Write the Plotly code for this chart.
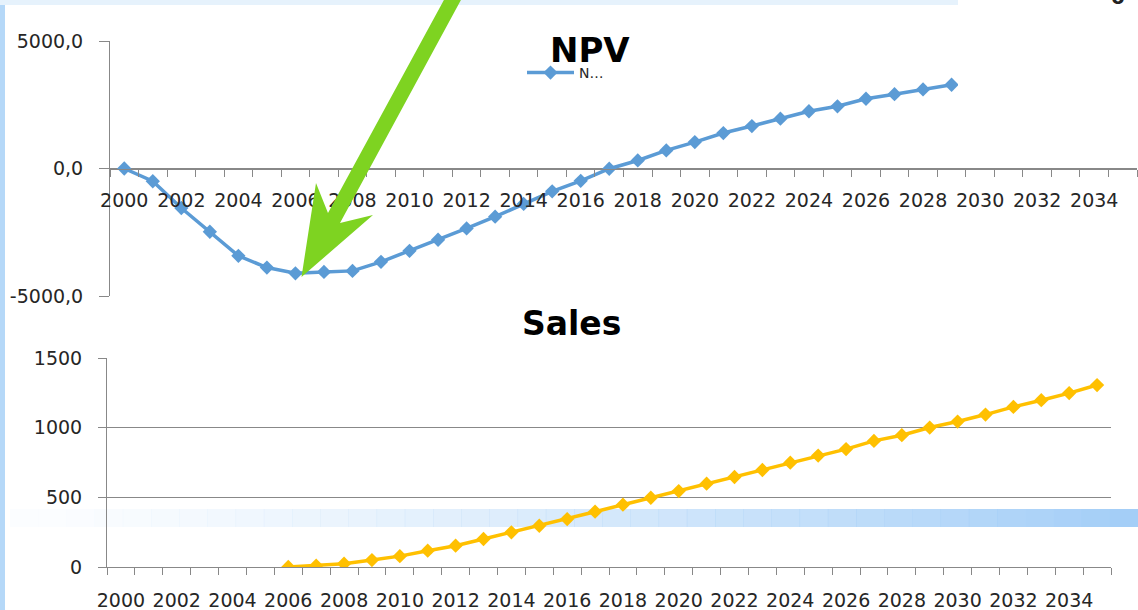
import plotly.graph_objects as go

W, H = 1138, 610

# ---- data ----
years = list(range(2000, 2036))
tick_years = list(range(2000, 2035, 2))
tick_labels = [str(y) for y in tick_years]

npv_years = list(range(2000, 2030))
npv_values = [0, -500, -1550, -2480, -3425, -3885, -4110, -4055, -4015, -3660,
              -3230, -2795, -2350, -1890, -1390, -895, -485, -10, 315, 710,
              1035, 1390, 1665, 1955, 2245, 2440, 2735, 2915, 3100, 3285]

sales_years = list(range(2006, 2036))
sales_values = [0, 9, 24, 50, 78, 117, 153, 201, 249, 296,
                344, 397, 447, 497, 545, 598, 646, 696, 749, 800,
                846, 905, 946, 1001, 1044, 1094, 1149, 1197, 1248, 1306]

npv_ticks = [-5000, 0, 5000]
npv_ticktext = ["-5000,0", "0,0", "5000,0"]
sales_ticks = [0, 500, 1000, 1500]
sales_ticktext = ["0", "500", "1000", "1500"]


def px(x):
    return x / W


def py(y):
    return 1 - y / H


FONT = "DejaVu Sans"
GRID = "#888888"
TXT = "#262626"
NPV_COLOR = "#5B9BD5"
SALES_COLOR = "#FFC000"
boundaries = [y - 0.5 for y in years] + [years[-1] + 0.5]

fig = go.Figure()
fig.add_trace(go.Scatter(
    x=npv_years, y=npv_values, name="N…", mode="lines+markers",
    line=dict(color=NPV_COLOR, width=3.5),
    marker=dict(symbol="diamond", size=11, color=NPV_COLOR),
    xaxis="x", yaxis="y", showlegend=True))
fig.add_trace(go.Scatter(
    x=sales_years, y=sales_values, name="Sales", mode="lines+markers",
    line=dict(color=SALES_COLOR, width=3.5),
    marker=dict(symbol="diamond", size=11, color=SALES_COLOR),
    xaxis="x2", yaxis="y2", showlegend=False))

xcommon = dict(range=[1999.5, 2035.5], tickmode="array", tickvals=tick_years,
               ticktext=tick_labels, ticks="", showgrid=False, zeroline=False,
               showline=True, linecolor=GRID, linewidth=1, automargin=False,
               tickfont=dict(family=FONT, size=19, color=TXT),
               minor=dict(tickmode="array", tickvals=boundaries, ticks="outside",
                          ticklen=7, tickcolor=GRID, showgrid=False))

fig.update_layout(
    width=W, height=H, autosize=False,
    margin=dict(l=0, r=0, t=0, b=0, pad=0, autoexpand=False),
    paper_bgcolor="white", plot_bgcolor="rgba(0,0,0,0)",
    font=dict(family=FONT, color=TXT),
    xaxis=dict(domain=[px(110), px(1137)], anchor="free", position=py(168.5),
               ticklabelstandoff=15, **xcommon),
    yaxis=dict(domain=[py(296), py(41)], range=[-5000, 5000], anchor="x",
               tickmode="array", tickvals=npv_ticks, ticktext=npv_ticktext,
               showgrid=True, gridcolor=GRID, gridwidth=1, zeroline=False,
               showline=True, linecolor=GRID, ticks="outside", ticklen=10,
               tickcolor=GRID, ticklabelstandoff=12, automargin=False,
               tickfont=dict(family=FONT, size=19, color=TXT)),
    xaxis2=dict(domain=[px(107), px(1111)], anchor="y2",
                ticklabelstandoff=16, **xcommon),
    yaxis2=dict(domain=[py(567), py(358)], range=[0, 1500], anchor="x2",
                tickmode="array", tickvals=sales_ticks, ticktext=sales_ticktext,
                showgrid=True, gridcolor=GRID, gridwidth=1, zeroline=False,
                showline=True, linecolor=GRID, ticks="outside", ticklen=8,
                tickcolor=GRID, ticklabelstandoff=12, automargin=False,
                tickfont=dict(family=FONT, size=19, color=TXT)),
    legend=dict(x=px(522), y=py(73), xanchor="left", yanchor="middle",
                bgcolor="rgba(0,0,0,0)", itemwidth=47,
                font=dict(family=FONT, size=14, color=TXT)),
)

shapes = []
# slide decorations
shapes.append(dict(type="rect", xref="paper", yref="paper", x0=0, x1=px(5),
                   y0=0, y1=1, fillcolor="#B5D8F8", line=dict(width=0), layer="below"))
shapes.append(dict(type="rect", xref="paper", yref="paper", x0=0, x1=px(958),
                   y0=py(5), y1=1, fillcolor="#E6F2FC", line=dict(width=0), layer="below"))
n = 40
x_start, x_end = 10, W
for i in range(n):
    a = 0.04 + 0.96 * (i / (n - 1)) ** 1.3
    shapes.append(dict(type="rect", xref="paper", yref="paper",
                       x0=px(x_start + (x_end - x_start) * i / n),
                       x1=px(x_start + (x_end - x_start) * (i + 1) / n + 0.5),
                       y0=py(527), y1=py(509),
                       fillcolor=f"rgba(164,206,247,{a:.3f})",
                       line=dict(width=0), layer="below"))
# white overlay at top right
shapes.append(dict(type="rect", xref="paper", yref="paper", x0=px(958), x1=1,
                   y0=py(150), y1=1, fillcolor="white", line=dict(width=0), layer="above"))
# green arrow
pts = [(445, -2), (328, 213), (316, 183), (301.5, 277), (373, 215), (340, 223), (462, -2)]
path = "M " + " L ".join(f"{px(x):.5f},{py(y):.5f}" for x, y in pts) + " Z"
shapes.append(dict(type="path", xref="paper", yref="paper", path=path,
                   fillcolor="#7ED321", line=dict(width=0), layer="above"))
fig.update_layout(shapes=shapes)

fig.add_annotation(x=px(590), y=py(50), xref="paper", yref="paper",
                   text="<b>NPV</b>", showarrow=False, yanchor="middle",
                   font=dict(family=FONT, size=34, color="black"))
fig.add_annotation(x=px(571), y=py(324), xref="paper", yref="paper",
                   text="<b>Sales</b>", showarrow=False, yanchor="middle",
                   font=dict(family=FONT, size=33, color="black"))
fig.add_annotation(x=px(1127), y=py(11), xref="paper", yref="paper",
                   text="<b>0</b>", showarrow=False, yanchor="bottom",
                   font=dict(family=FONT, size=20, color="#222222"))

fig.write_html("out.html", config={"responsive": False, "displayModeBar": False},
               post_script="document.body.style.margin='0';document.body.style.overflow='hidden';")
